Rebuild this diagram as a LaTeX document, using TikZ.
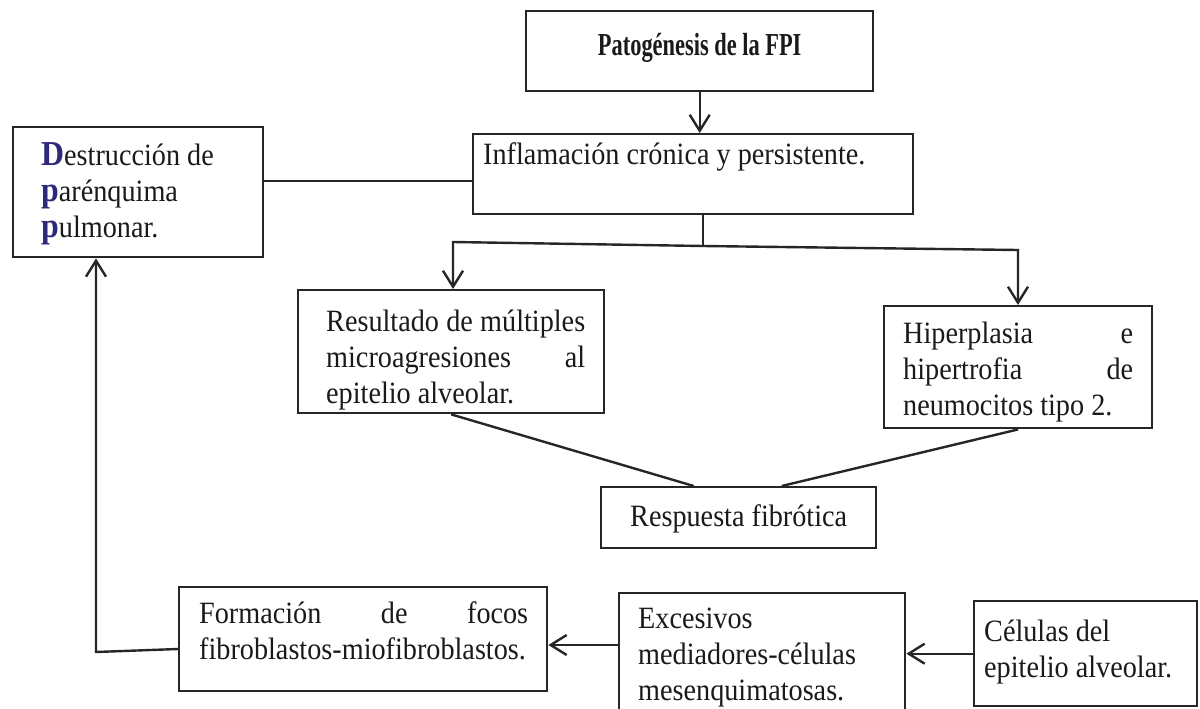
\documentclass[tikz,border=0pt]{standalone}
\usepackage{fontspec}
\setmainfont{Liberation Serif}[FakeStretch=0.91]
\newfontfamily\titfont{Liberation Serif}[FakeStretch=0.7]
\usetikzlibrary{arrows.meta,calc}
\definecolor{lc}{HTML}{262626}
\definecolor{tc}{HTML}{1A1A1A}
\definecolor{inicol}{HTML}{2E2A7A}
% #1 box width, #2 box height, #3 first baseline from top, #4 left pad, #5 text width, #6 text
\newcommand{\bxc}[6]{\parbox[c][#2][t]{#1}{\vspace*{\dimexpr#3-25.2pt\relax}\noindent\hspace*{#4}\parbox[t]{#5}{\raggedright\strut#6}}}
\newcommand{\inil}[1]{{\fontsize{35}{36}\selectfont\bfseries\color{inicol}#1}}
\tikzset{
  ln/.style={draw=lc, line width=2.4pt},
  arr/.style={ln, -{Straight Barb[length=16pt,width=20pt]}},
  bxs/.style={draw=lc, line width=2.4pt, inner sep=0pt, rectangle, anchor=north west,
    text=tc, font=\fontsize{31}{36}\selectfont}
}
\begin{document}
\begin{tikzpicture}[x=1pt,y=-1pt]
\useasboundingbox (0,0) rectangle (1200,709);
\fill[white] (0,0) rectangle (1200,709);
\clip (0,0) rectangle (1200,709);

\node[bxs, font=\titfont\bfseries\fontsize{32}{36}\selectfont] (tit) at (525,10)
  {\bxc{347pt}{80pt}{44pt}{0pt}{347pt}{\centering Patogénesis de la FPI}};
\node[bxs] (infl) at (472,133)
  {\bxc{440pt}{80pt}{30pt}{10pt}{425pt}{Inflamación crónica y persistente.}};
\node[bxs] (dest) at (12,126)
  {\bxc{250pt}{130pt}{38pt}{28pt}{215pt}{\inil{D}estrucción de\\ \inil{p}arénquima\\ \inil{p}ulmonar.}};
\node[bxs] (res) at (297,289)
  {\bxc{306pt}{123pt}{41pt}{28pt}{259pt}{Resultado\hfill de\hfill múltiples\\ microagresiones\hfill al\\ epitelio alveolar.}};
\node[bxs] (hip) at (883,305)
  {\bxc{268pt}{122pt}{37pt}{19pt}{230pt}{Hiperplasia\hfill e\\ hipertrofia\hfill de\\ neumocitos tipo 2.}};
\node[bxs] (resp) at (600,486)
  {\bxc{275pt}{61pt}{39pt}{0pt}{275pt}{\centering Respuesta fibrótica}};
\node[bxs] (form) at (178,586)
  {\bxc{368pt}{104pt}{36pt}{20pt}{329pt}{Formación\hfill de\hfill focos\\ fibroblastos-miofibroblastos.}};
\node[bxs] (exc) at (618,592)
  {\bxc{286pt}{130pt}{35pt}{19pt}{262pt}{Excesivos\\ mediadores-células\\ mesenquimatosas.}};
\node[bxs] (cel) at (973,600)
  {\bxc{223pt}{105pt}{40pt}{10pt}{210pt}{Células del\\ epitelio alveolar.}};

\coordinate (j) at (703,246);
\coordinate (bl) at (453,242);
\coordinate (br) at (1018,250);
\coordinate (dl) at (0,181);
\coordinate (ef) at (0,645);
\coordinate (fw) at (0,649);
\coordinate (cc) at (96,652);

\draw[arr] (tit.south) -- (tit.south |- infl.north);
\draw[ln] (infl.south -| j) -- (j);
\draw[arr] (j) -- (bl) -- (bl |- res.north);
\draw[arr] (j) -- (br) -- (br |- hip.north);
\draw[ln] (dest.east |- dl) -- (infl.west |- dl);
\draw[ln] (res.south) -- ($(resp.north)+(-45,0)$);
\draw[ln] (hip.south) -- ($(resp.north)+(43,0)$);
\draw[arr] (cel.west) -- (cel.west -| exc.east);
\draw[arr] (exc.west |- ef) -- (form.east |- ef);
\draw[arr] (form.west |- fw) -- (cc) -- (cc |- dest.south);
\end{tikzpicture}
\end{document}
